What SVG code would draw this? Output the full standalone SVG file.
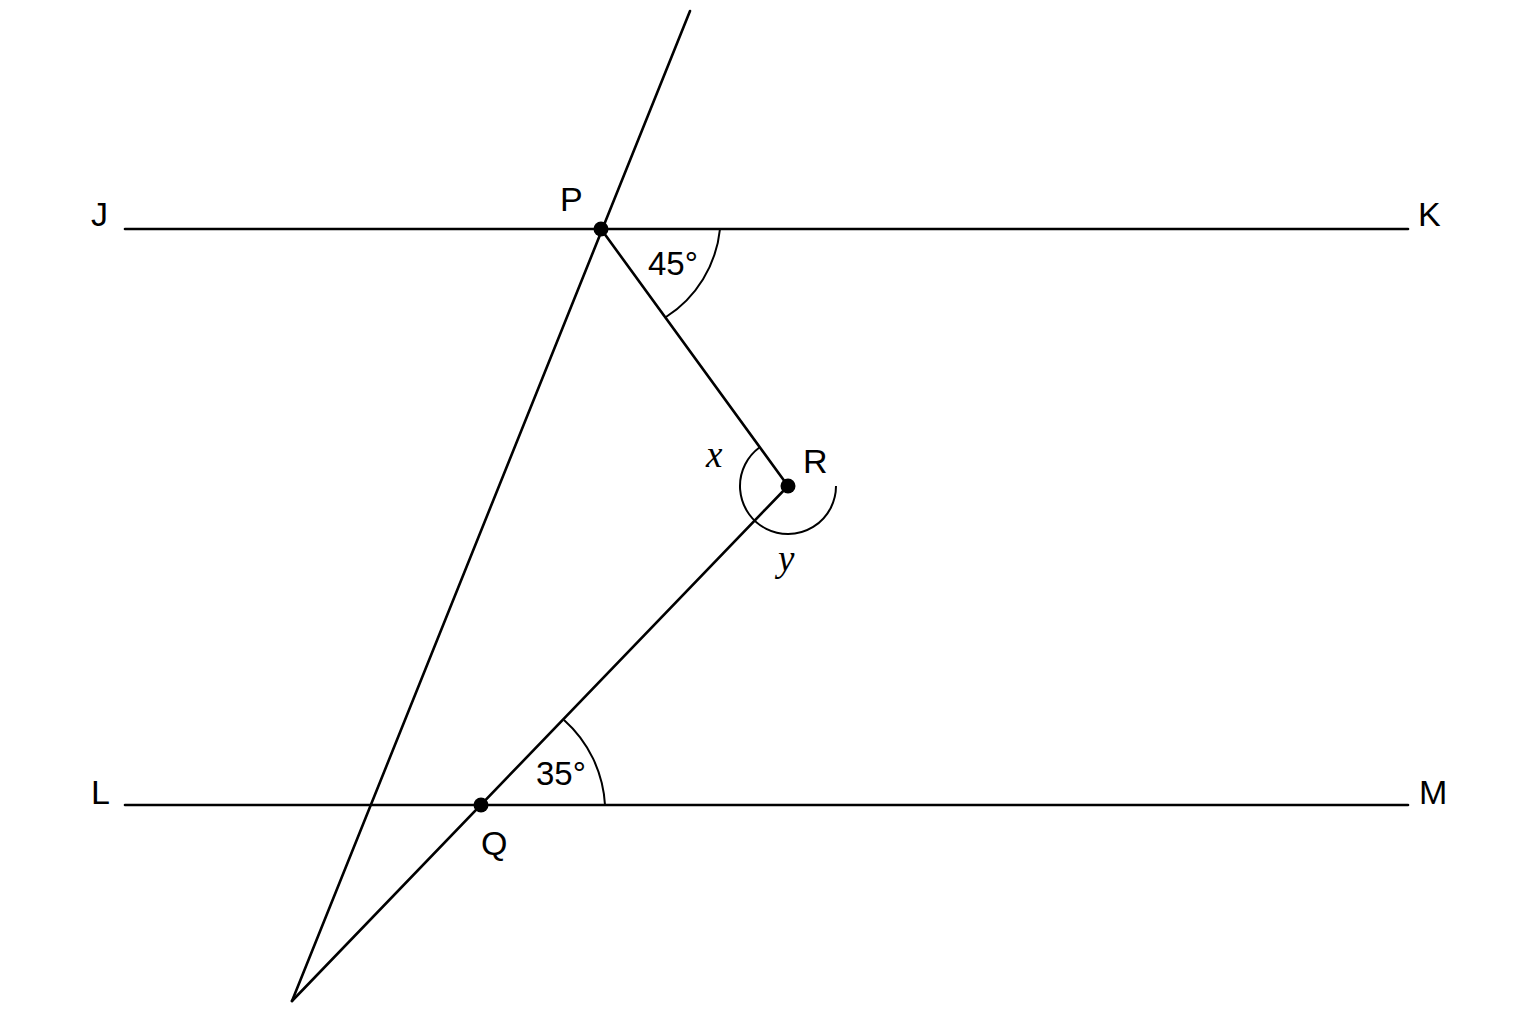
<svg xmlns="http://www.w3.org/2000/svg" width="1536" height="1024" viewBox="0 0 1536 1024">
<style>
.ln{stroke:#000;stroke-width:2.6;fill:none;stroke-linecap:round}
.arc{stroke:#000;stroke-width:2;fill:none}
.lbl{font-family:"Liberation Sans",Arial,sans-serif;font-size:34px;fill:#000}
.ang{font-family:"Liberation Sans",Arial,sans-serif;font-size:33px;fill:#000}
.var{font-family:"Liberation Serif","Times New Roman",serif;font-style:italic;font-size:37px;fill:#000}
</style>
<rect width="1536" height="1024" fill="#fff"/>
<g id="connectors">
<line class="ln" x1="125" y1="229" x2="1408" y2="229"/>
<line class="ln" x1="125" y1="805" x2="1408" y2="805"/>
<line class="ln" x1="690" y1="11" x2="292" y2="1001"/>
<line class="ln" x1="601" y1="229" x2="788" y2="486"/>
<line class="ln" x1="788" y1="486" x2="292" y2="1001"/>
</g>
<g id="angle-P">
<path class="arc" d="M720 229 A119 119 0 0 1 666 317"/>
<text class="ang" x="648" y="275">45°</text>
</g>
<g id="angle-Q">
<path class="arc" d="M564 720 A123 123 0 0 1 605 805"/>
<text class="ang" x="536" y="785">35°</text>
</g>
<g id="angle-R">
<path class="arc" d="M759.7 447.3 A48 48 0 1 0 836 486"/>
<text class="var" x="706" y="467">x</text>
<text class="var" x="778" y="571">y</text>
</g>
<g id="node-P"><circle cx="601" cy="229" r="7.5"/><text class="lbl" x="560" y="211">P</text></g>
<g id="node-R"><circle cx="788" cy="486" r="7.5"/><text class="lbl" x="803" y="473">R</text></g>
<g id="node-Q"><circle cx="481" cy="805" r="7.5"/><text class="lbl" x="481" y="855">Q</text></g>
<g id="node-J"><text class="lbl" x="91" y="226">J</text></g>
<g id="node-K"><text class="lbl" x="1418" y="226">K</text></g>
<g id="node-L"><text class="lbl" x="91" y="804">L</text></g>
<g id="node-M"><text class="lbl" x="1419" y="804">M</text></g>
</svg>
